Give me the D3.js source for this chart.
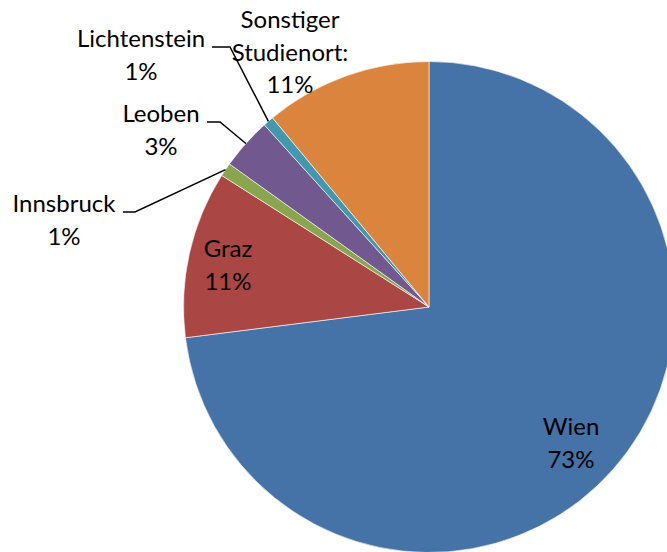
<!DOCTYPE html>
<html>
<head>
<meta charset="utf-8">
<script src="https://cdn.jsdelivr.net/npm/d3@7"></script>
<style>
  html, body { margin: 0; padding: 0; background: #fff; }
  svg text { font-family: Lato, "Open Sans", sans-serif; font-size: 24px; fill: #000; }
</style>
</head>
<body>
<div id="chart"></div>
<script>
// data (share of slice, clockwise from 12 o'clock)
const categories = ["Wien", "Graz", "Innsbruck", "Leoben", "Lichtenstein", "Sonstiger Studienort:"];
const values = [73.0, 11.0, 0.9, 3.4, 0.7, 11.0];
const percentLabels = ["73%", "11%", "1%", "3%", "1%", "11%"];
const colors = ["#4572A7", "#AA4643", "#89A54E", "#71588F", "#4198AF", "#DB843D"];

const width = 667, height = 552;
const cx = 429, cy = 307, radius = 245.5;

// label placement (layout only): block centre x, first baseline y, leader elbow
const labelPos = {
  "Wien":                  { x: 571, y: 435 },
  "Graz":                  { x: 228, y: 257 },
  "Innsbruck":             { x: 64,  y: 212, line: [123, 135] },
  "Leoben":                { x: 161, y: 122, line: [207, 220] },
  "Lichtenstein":          { x: 141, y: 47,  line: [212, 230] },
  "Sonstiger Studienort:": { x: 290, y: 28 }
};
const lineH = 32.5;

const svg = d3.select("#chart").append("svg")
  .attr("width", width)
  .attr("height", height);

const g = svg.append("g")
  .attr("transform", "translate(" + cx + "," + cy + ")");

const pie = d3.pie().sort(null).value(d => d.value);
const arc = d3.arc().innerRadius(0).outerRadius(radius);

const data = categories.map((c, i) => ({ name: c, value: values[i], pct: percentLabels[i], color: colors[i] }));
const arcs = pie(data);

g.selectAll("path.slice")
  .data(arcs)
  .enter().append("path")
  .attr("class", "slice")
  .attr("d", arc)
  .attr("fill", d => d.data.color)
  .attr("stroke", "#fff")
  .attr("stroke-width", 0.6);

// leader lines for the small slices
arcs.forEach(a => {
  const p = labelPos[a.data.name];
  if (!p.line) return;
  const mid = (a.startAngle + a.endAngle) / 2;
  const ex = cx + radius * Math.sin(mid);
  const ey = cy - radius * Math.cos(mid);
  const yl = p.y;
  svg.append("path")
    .attr("d", "M" + p.line[0] + "," + yl + "L" + p.line[1] + "," + yl + "L" + ex + "," + ey)
    .attr("fill", "none")
    .attr("stroke", "#000")
    .attr("stroke-width", 1.5);
});

// labels
arcs.forEach(a => {
  const p = labelPos[a.data.name];
  let lines = a.data.name.split(" ");
  lines.push(a.data.pct);
  const t = svg.append("text")
    .attr("text-anchor", "middle");
  lines.forEach((l, i) => {
    t.append("tspan")
      .attr("x", p.x)
      .attr("y", p.y + i * lineH)
      .text(l);
  });
});
</script>
</body>
</html>
